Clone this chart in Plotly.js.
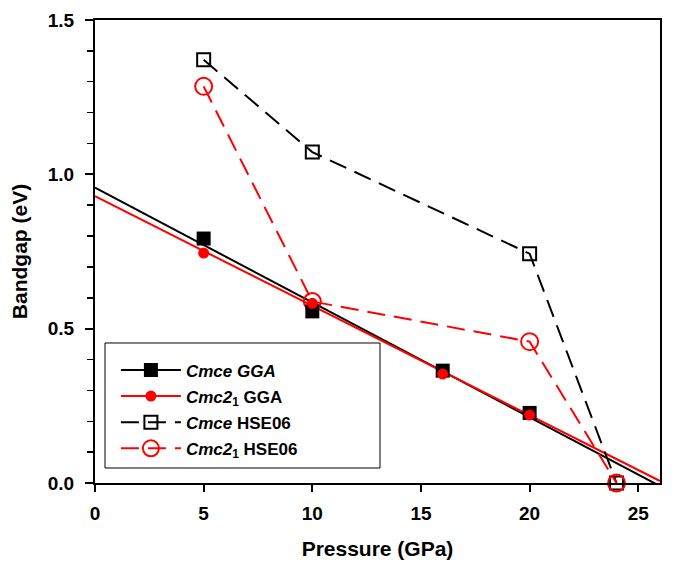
<!DOCTYPE html>
<html>
<head>
<meta charset="utf-8">
<script src="https://cdn.plot.ly/plotly-3.0.1.min.js"></script>
<style>html,body{margin:0;padding:0;background:#fff;}#chart{width:679px;height:562px;}</style>
</head>
<body>
<div id="chart"></div>
<script>
// Pressure values (GPa)
const pressureGGA = [5, 10, 16, 20];
const pressureHSE = [5, 10, 20, 24];
// Bandgap values (eV)
const cmceGGA = [0.792, 0.556, 0.364, 0.227];
const cmc21GGA = [0.745, 0.582, 0.353, 0.220];
const cmceHSE = [1.371, 1.072, 0.743, 0.0];
const cmc21HSE = [1.285, 0.588, 0.458, 0.0];
// Linear fit lines
const fitX = [0, 26];
const cmceFit = [0.957, -0.010];
const cmc21Fit = [0.929, 0.0065];
// Legend labels
const labels = ['<i>Cmce GGA</i>', '<i>Cmc2</i><sub>1</sub> GGA', '<i>Cmce</i> HSE06', '<i>Cmc2</i><sub>1</sub> HSE06'];

const RED = '#ff0000', BLACK = '#000000';
const dash = '18px,9px';

const traces = [
  // fit lines
  {x: fitX, y: cmceFit, mode: 'lines', line: {color: BLACK, width: 2}, showlegend: false, hoverinfo: 'skip'},
  {x: fitX, y: cmc21Fit, mode: 'lines', line: {color: RED, width: 2}, showlegend: false, hoverinfo: 'skip'},
  // HSE06 dashed
  {x: pressureHSE, y: cmceHSE, mode: 'lines+markers', name: labels[2], legendrank: 3, legendgroup: 'c',
   line: {color: BLACK, width: 2, dash: dash},
   marker: {symbol: 'square-open', size: 13, color: BLACK, line: {width: 2}}, cliponaxis: false},
  {x: pressureHSE, y: cmc21HSE, mode: 'lines+markers', name: labels[3], legendrank: 4, legendgroup: 'd',
   line: {color: RED, width: 2, dash: dash},
   marker: {symbol: 'circle-open', size: 17, color: RED, line: {width: 2}}, cliponaxis: false},
  // GGA points
  {x: pressureGGA, y: cmceGGA, mode: 'markers', showlegend: false,
   marker: {symbol: 'square', size: 14, color: BLACK}},
  {x: pressureGGA, y: cmc21GGA, mode: 'markers', showlegend: false,
   marker: {symbol: 'circle', size: 11, color: RED}},
  // legend-only entries for GGA (line + marker)
  {x: [null], y: [null], mode: 'lines+markers', name: labels[0], legendrank: 1, legendgroup: 'a',
   line: {color: BLACK, width: 2}, marker: {symbol: 'square', size: 14, color: BLACK}},
  {x: [null], y: [null], mode: 'lines+markers', name: labels[1], legendrank: 2, legendgroup: 'b',
   line: {color: RED, width: 2}, marker: {symbol: 'circle', size: 11, color: RED}}
];

const fontFam = 'Liberation Sans, Arial, sans-serif';
const layout = {
  width: 679, height: 562,
  margin: {l: 95, r: 19, t: 20, b: 79},
  paper_bgcolor: '#fff', plot_bgcolor: '#fff',
  font: {family: fontFam, color: BLACK, size: 17, weight: 'bold'},
  showlegend: true,
  legend: {
    x: 0.037, y: 0.282, xanchor: 'left', yanchor: 'top',
    bgcolor: 'rgba(0,0,0,0)', borderwidth: 0,
    font: {family: fontFam, size: 17, color: BLACK, weight: 'bold'},
    itemwidth: 60, tracegroupgap: 1, traceorder: 'grouped'
  },
  shapes: [
    {type: 'rect', xref: 'paper', yref: 'paper', x0: 0.0177, x1: 0.5044, y0: 0.0324, y1: 0.3024,
     fillcolor: '#ffffff', line: {color: BLACK, width: 1}, layer: 'above'}
  ],
  xaxis: {
    range: [0, 26], tickvals: [0, 5, 10, 15, 20, 25],
    showgrid: false, zeroline: false,
    showline: true, linecolor: BLACK, linewidth: 2, mirror: true,
    ticks: 'outside', ticklen: 7, tickwidth: 2, tickcolor: BLACK, ticklabelstandoff: 5,
    tickfont: {family: fontFam, size: 19, weight: 'bold'},
    title: {text: 'Pressure (GPa)', font: {family: fontFam, size: 21, weight: 'bold'}, standoff: 19}
  },
  yaxis: {
    range: [0, 1.5], tickvals: [0, 0.5, 1.0, 1.5], tickformat: '.1f',
    showgrid: false, zeroline: false,
    showline: true, linecolor: BLACK, linewidth: 2, mirror: true,
    ticks: 'outside', ticklen: 8, tickwidth: 2, tickcolor: BLACK, ticklabelstandoff: 7,
    minor: {dtick: 0.1, ticks: 'outside', ticklen: 6, tickwidth: 1.5, tickcolor: BLACK, showgrid: false},
    tickfont: {family: fontFam, size: 19, weight: 'bold'},
    title: {text: 'Bandgap (eV)', font: {family: fontFam, size: 21, weight: 'bold'}, standoff: 14}
  }
};

Plotly.newPlot('chart', traces, layout, {displayModeBar: false, staticPlot: true});
</script>
</body>
</html>
